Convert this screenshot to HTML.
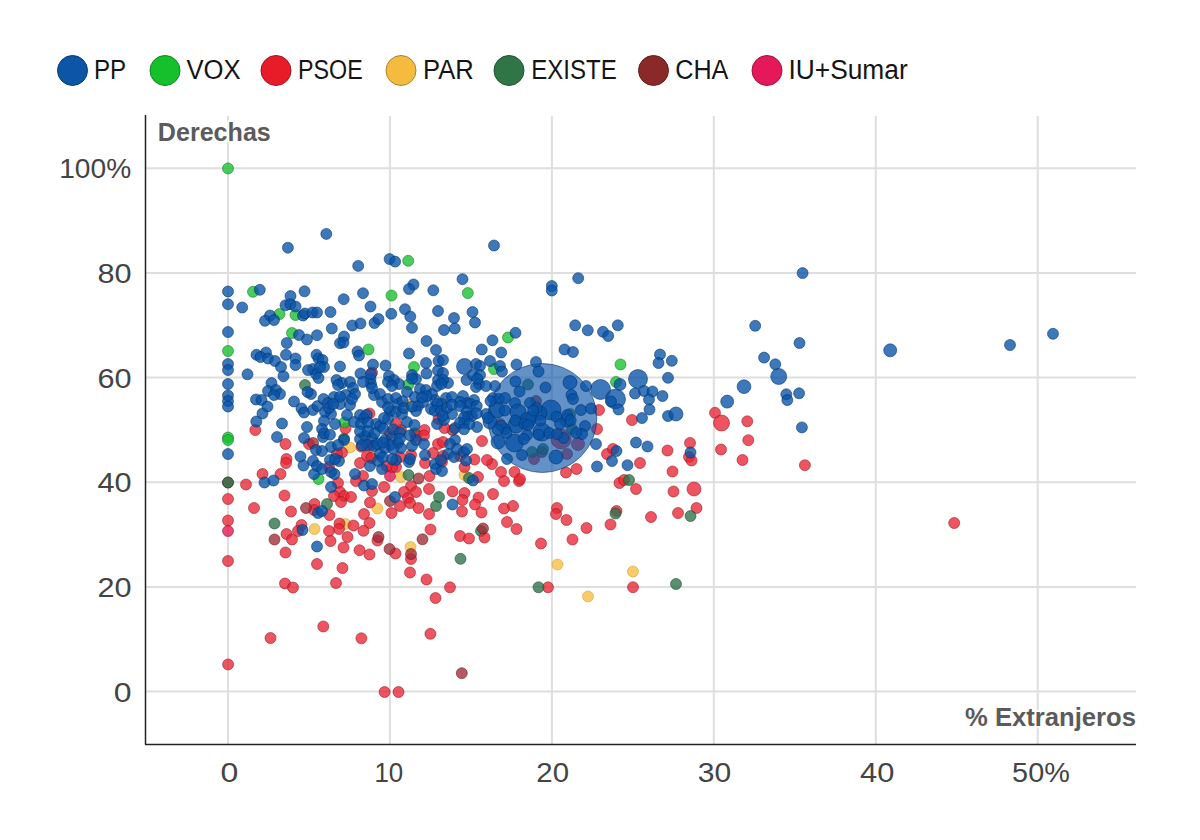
<!DOCTYPE html>
<html><head><meta charset="utf-8"><style>
html,body{margin:0;padding:0;background:#fff;width:1200px;height:840px;overflow:hidden}
svg{display:block}
</style></head><body>
<svg width="1200" height="840" viewBox="0 0 1200 840">
<g stroke="#dedede" stroke-width="2"><line x1="228.0" y1="116" x2="228.0" y2="744" /><line x1="389.9" y1="116" x2="389.9" y2="744" /><line x1="551.9" y1="116" x2="551.9" y2="744" /><line x1="713.8" y1="116" x2="713.8" y2="744" /><line x1="875.8" y1="116" x2="875.8" y2="744" /><line x1="1037.7" y1="116" x2="1037.7" y2="744" /><line x1="146" y1="691.5" x2="1136" y2="691.5" /><line x1="146" y1="586.9" x2="1136" y2="586.9" /><line x1="146" y1="482.2" x2="1136" y2="482.2" /><line x1="146" y1="377.6" x2="1136" y2="377.6" /><line x1="146" y1="272.9" x2="1136" y2="272.9" /><line x1="146" y1="168.3" x2="1136" y2="168.3" /></g>
<line x1="145.5" y1="115" x2="145.5" y2="744.5" stroke="#222" stroke-width="1.5"/>
<line x1="145" y1="744.5" x2="1136" y2="744.5" stroke="#222" stroke-width="1.5"/>
<g fill-opacity="0.78" stroke-opacity="0.55" stroke-width="1"><circle cx="408.5" cy="404.5" r="5.5" fill="#f6be40" stroke="#d1a136"/><circle cx="371.0" cy="457.0" r="5.5" fill="#f6be40" stroke="#d1a136"/><circle cx="345.5" cy="524.0" r="5.5" fill="#f6be40" stroke="#d1a136"/><circle cx="632.0" cy="420.0" r="5.5" fill="#e92533" stroke="#90161f"/><circle cx="309.0" cy="444.0" r="5.5" fill="#e92533" stroke="#90161f"/><circle cx="607.0" cy="454.0" r="5.5" fill="#e92533" stroke="#90161f"/><circle cx="613.0" cy="449.0" r="5.5" fill="#e92533" stroke="#90161f"/><circle cx="561.0" cy="439.0" r="10.0" fill="#e92533" stroke="#90161f"/><circle cx="578.0" cy="444.0" r="6.5" fill="#e92533" stroke="#90161f"/><circle cx="567.0" cy="454.0" r="5.5" fill="#e92533" stroke="#90161f"/><circle cx="500.0" cy="424.0" r="5.5" fill="#e92533" stroke="#90161f"/><circle cx="534.0" cy="459.0" r="5.5" fill="#e92533" stroke="#90161f"/><circle cx="361.3" cy="446.7" r="5.5" fill="#e92533" stroke="#90161f"/><circle cx="370.7" cy="445.3" r="5.5" fill="#e92533" stroke="#90161f"/><circle cx="390.0" cy="433.3" r="5.5" fill="#e92533" stroke="#90161f"/><circle cx="401.0" cy="430.0" r="5.5" fill="#9f2b33" stroke="#621a1f"/><circle cx="452.5" cy="430.0" r="5.5" fill="#9f2b33" stroke="#621a1f"/><circle cx="228.0" cy="482.5" r="5.5" fill="#9f2b33" stroke="#621a1f"/><circle cx="313.0" cy="443.0" r="5.5" fill="#9f2b33" stroke="#621a1f"/><circle cx="536.0" cy="401.0" r="5.5" fill="#9f2b33" stroke="#621a1f"/><circle cx="542.0" cy="452.0" r="5.5" fill="#9f2b33" stroke="#621a1f"/><circle cx="408.5" cy="384.5" r="5.5" fill="#16c02e" stroke="#0d771c"/><circle cx="494.0" cy="369.0" r="5.5" fill="#16c02e" stroke="#0d771c"/><circle cx="616.0" cy="382.0" r="5.5" fill="#16c02e" stroke="#0d771c"/><circle cx="481.0" cy="531.0" r="5.5" fill="#2a7248" stroke="#1a462c"/><circle cx="528.0" cy="384.5" r="5.5" fill="#2a7248" stroke="#1a462c"/><circle cx="570.0" cy="414.0" r="5.5" fill="#2a7248" stroke="#1a462c"/><circle cx="572.0" cy="429.0" r="5.5" fill="#2a7248" stroke="#1a462c"/><circle cx="543.0" cy="449.0" r="5.5" fill="#2a7248" stroke="#1a462c"/><circle cx="532.0" cy="452.0" r="5.5" fill="#2a7248" stroke="#1a462c"/><circle cx="344.0" cy="438.7" r="5.5" fill="#2a7248" stroke="#1a462c"/><circle cx="414.7" cy="433.3" r="5.5" fill="#2a7248" stroke="#1a462c"/><circle cx="350.0" cy="447.5" r="5.5" fill="#f6be40" stroke="#d1a136"/><circle cx="401.0" cy="477.0" r="5.5" fill="#f6be40" stroke="#d1a136"/><circle cx="377.5" cy="508.5" r="5.5" fill="#f6be40" stroke="#d1a136"/><circle cx="464.5" cy="475.0" r="5.5" fill="#f6be40" stroke="#d1a136"/><circle cx="314.5" cy="529.0" r="5.5" fill="#f6be40" stroke="#d1a136"/><circle cx="410.5" cy="547.0" r="5.5" fill="#f6be40" stroke="#d1a136"/><circle cx="557.5" cy="564.5" r="5.5" fill="#f6be40" stroke="#d1a136"/><circle cx="633.0" cy="571.5" r="5.5" fill="#f6be40" stroke="#d1a136"/><circle cx="588.0" cy="596.5" r="5.5" fill="#f6be40" stroke="#d1a136"/><circle cx="747.3" cy="421.3" r="5.5" fill="#e92533" stroke="#90161f"/><circle cx="748.3" cy="440.2" r="5.5" fill="#e92533" stroke="#90161f"/><circle cx="742.5" cy="460.0" r="5.5" fill="#e92533" stroke="#90161f"/><circle cx="804.9" cy="465.2" r="5.5" fill="#e92533" stroke="#90161f"/><circle cx="954.2" cy="523.0" r="5.5" fill="#e92533" stroke="#90161f"/><circle cx="255.3" cy="430.0" r="5.5" fill="#e92533" stroke="#90161f"/><circle cx="372.0" cy="372.5" r="5.5" fill="#e92533" stroke="#90161f"/><circle cx="369.5" cy="413.5" r="5.5" fill="#e92533" stroke="#90161f"/><circle cx="424.5" cy="430.0" r="5.5" fill="#e92533" stroke="#90161f"/><circle cx="396.0" cy="423.5" r="5.5" fill="#e92533" stroke="#90161f"/><circle cx="345.5" cy="428.5" r="5.5" fill="#e92533" stroke="#90161f"/><circle cx="438.5" cy="419.0" r="5.5" fill="#e92533" stroke="#90161f"/><circle cx="444.5" cy="428.0" r="5.5" fill="#e92533" stroke="#90161f"/><circle cx="715.0" cy="412.8" r="5.5" fill="#e92533" stroke="#90161f"/><circle cx="721.5" cy="423.0" r="8.0" fill="#e92533" stroke="#90161f"/><circle cx="228.0" cy="499.0" r="5.5" fill="#e92533" stroke="#90161f"/><circle cx="228.0" cy="520.5" r="5.5" fill="#e92533" stroke="#90161f"/><circle cx="285.5" cy="444.0" r="5.5" fill="#e92533" stroke="#90161f"/><circle cx="286.5" cy="459.0" r="5.5" fill="#e92533" stroke="#90161f"/><circle cx="286.0" cy="463.0" r="5.5" fill="#e92533" stroke="#90161f"/><circle cx="262.5" cy="474.0" r="5.5" fill="#e92533" stroke="#90161f"/><circle cx="280.5" cy="474.0" r="5.5" fill="#e92533" stroke="#90161f"/><circle cx="246.0" cy="484.5" r="5.5" fill="#e92533" stroke="#90161f"/><circle cx="284.5" cy="495.5" r="5.5" fill="#e92533" stroke="#90161f"/><circle cx="254.0" cy="508.0" r="5.5" fill="#e92533" stroke="#90161f"/><circle cx="291.0" cy="511.5" r="5.5" fill="#e92533" stroke="#90161f"/><circle cx="314.5" cy="504.0" r="5.5" fill="#e92533" stroke="#90161f"/><circle cx="314.0" cy="510.0" r="5.5" fill="#e92533" stroke="#90161f"/><circle cx="342.0" cy="452.5" r="5.5" fill="#e92533" stroke="#90161f"/><circle cx="337.0" cy="453.5" r="5.5" fill="#e92533" stroke="#90161f"/><circle cx="416.0" cy="436.0" r="5.5" fill="#e92533" stroke="#90161f"/><circle cx="424.0" cy="435.5" r="5.5" fill="#e92533" stroke="#90161f"/><circle cx="433.0" cy="453.0" r="5.5" fill="#e92533" stroke="#90161f"/><circle cx="438.0" cy="444.0" r="5.5" fill="#e92533" stroke="#90161f"/><circle cx="367.0" cy="456.0" r="5.5" fill="#e92533" stroke="#90161f"/><circle cx="360.0" cy="463.0" r="5.5" fill="#e92533" stroke="#90161f"/><circle cx="400.0" cy="457.0" r="5.5" fill="#e92533" stroke="#90161f"/><circle cx="396.0" cy="467.0" r="5.5" fill="#e92533" stroke="#90161f"/><circle cx="411.0" cy="455.0" r="5.5" fill="#e92533" stroke="#90161f"/><circle cx="425.0" cy="463.0" r="5.5" fill="#e92533" stroke="#90161f"/><circle cx="363.0" cy="476.0" r="5.5" fill="#e92533" stroke="#90161f"/><circle cx="356.0" cy="481.0" r="5.5" fill="#e92533" stroke="#90161f"/><circle cx="429.5" cy="476.0" r="5.5" fill="#e92533" stroke="#90161f"/><circle cx="329.0" cy="467.0" r="5.5" fill="#e92533" stroke="#90161f"/><circle cx="338.0" cy="483.0" r="5.5" fill="#e92533" stroke="#90161f"/><circle cx="340.0" cy="492.0" r="5.5" fill="#e92533" stroke="#90161f"/><circle cx="344.0" cy="496.0" r="5.5" fill="#e92533" stroke="#90161f"/><circle cx="351.0" cy="497.0" r="5.5" fill="#e92533" stroke="#90161f"/><circle cx="334.0" cy="496.0" r="5.5" fill="#e92533" stroke="#90161f"/><circle cx="341.0" cy="502.0" r="5.5" fill="#e92533" stroke="#90161f"/><circle cx="372.0" cy="491.0" r="5.5" fill="#e92533" stroke="#90161f"/><circle cx="384.0" cy="487.0" r="5.5" fill="#e92533" stroke="#90161f"/><circle cx="411.0" cy="486.0" r="5.5" fill="#e92533" stroke="#90161f"/><circle cx="416.0" cy="492.0" r="5.5" fill="#e92533" stroke="#90161f"/><circle cx="404.0" cy="492.0" r="5.5" fill="#e92533" stroke="#90161f"/><circle cx="429.0" cy="489.0" r="5.5" fill="#e92533" stroke="#90161f"/><circle cx="408.0" cy="498.0" r="5.5" fill="#e92533" stroke="#90161f"/><circle cx="410.0" cy="503.0" r="5.5" fill="#e92533" stroke="#90161f"/><circle cx="400.0" cy="506.0" r="5.5" fill="#e92533" stroke="#90161f"/><circle cx="418.5" cy="508.0" r="5.5" fill="#e92533" stroke="#90161f"/><circle cx="370.0" cy="502.5" r="5.5" fill="#e92533" stroke="#90161f"/><circle cx="364.0" cy="514.0" r="5.5" fill="#e92533" stroke="#90161f"/><circle cx="391.5" cy="513.0" r="5.5" fill="#e92533" stroke="#90161f"/><circle cx="429.0" cy="514.0" r="5.5" fill="#e92533" stroke="#90161f"/><circle cx="329.5" cy="515.0" r="5.5" fill="#e92533" stroke="#90161f"/><circle cx="443.0" cy="442.0" r="5.5" fill="#e92533" stroke="#90161f"/><circle cx="460.0" cy="456.0" r="5.5" fill="#e92533" stroke="#90161f"/><circle cx="443.0" cy="456.0" r="5.5" fill="#e92533" stroke="#90161f"/><circle cx="442.0" cy="462.0" r="5.5" fill="#e92533" stroke="#90161f"/><circle cx="474.5" cy="459.5" r="5.5" fill="#e92533" stroke="#90161f"/><circle cx="492.0" cy="464.0" r="5.5" fill="#e92533" stroke="#90161f"/><circle cx="464.5" cy="467.0" r="5.5" fill="#e92533" stroke="#90161f"/><circle cx="478.0" cy="477.0" r="5.5" fill="#e92533" stroke="#90161f"/><circle cx="501.0" cy="472.0" r="5.5" fill="#e92533" stroke="#90161f"/><circle cx="504.0" cy="481.0" r="5.5" fill="#e92533" stroke="#90161f"/><circle cx="514.5" cy="472.0" r="5.5" fill="#e92533" stroke="#90161f"/><circle cx="519.0" cy="481.0" r="5.5" fill="#e92533" stroke="#90161f"/><circle cx="520.0" cy="479.0" r="5.5" fill="#e92533" stroke="#90161f"/><circle cx="452.5" cy="491.5" r="5.5" fill="#e92533" stroke="#90161f"/><circle cx="464.5" cy="493.0" r="5.5" fill="#e92533" stroke="#90161f"/><circle cx="462.5" cy="500.0" r="5.5" fill="#e92533" stroke="#90161f"/><circle cx="478.5" cy="497.5" r="5.5" fill="#e92533" stroke="#90161f"/><circle cx="475.0" cy="504.5" r="5.5" fill="#e92533" stroke="#90161f"/><circle cx="481.5" cy="512.5" r="5.5" fill="#e92533" stroke="#90161f"/><circle cx="462.0" cy="511.5" r="5.5" fill="#e92533" stroke="#90161f"/><circle cx="493.0" cy="494.0" r="5.5" fill="#e92533" stroke="#90161f"/><circle cx="504.0" cy="508.5" r="5.5" fill="#e92533" stroke="#90161f"/><circle cx="513.0" cy="506.0" r="5.5" fill="#e92533" stroke="#90161f"/><circle cx="557.0" cy="508.0" r="5.5" fill="#e92533" stroke="#90161f"/><circle cx="556.0" cy="514.0" r="5.5" fill="#e92533" stroke="#90161f"/><circle cx="667.5" cy="450.5" r="5.5" fill="#e92533" stroke="#90161f"/><circle cx="640.0" cy="463.0" r="5.5" fill="#e92533" stroke="#90161f"/><circle cx="672.5" cy="471.5" r="5.5" fill="#e92533" stroke="#90161f"/><circle cx="566.0" cy="472.5" r="5.5" fill="#e92533" stroke="#90161f"/><circle cx="576.5" cy="469.0" r="5.5" fill="#e92533" stroke="#90161f"/><circle cx="619.5" cy="483.0" r="5.5" fill="#e92533" stroke="#90161f"/><circle cx="624.0" cy="480.0" r="5.5" fill="#e92533" stroke="#90161f"/><circle cx="636.0" cy="489.0" r="5.5" fill="#e92533" stroke="#90161f"/><circle cx="673.5" cy="491.5" r="5.5" fill="#e92533" stroke="#90161f"/><circle cx="616.5" cy="511.0" r="5.5" fill="#e92533" stroke="#90161f"/><circle cx="651.0" cy="517.0" r="5.5" fill="#e92533" stroke="#90161f"/><circle cx="690.0" cy="443.0" r="5.5" fill="#e92533" stroke="#90161f"/><circle cx="689.0" cy="457.0" r="5.5" fill="#e92533" stroke="#90161f"/><circle cx="691.5" cy="460.5" r="5.5" fill="#e92533" stroke="#90161f"/><circle cx="721.0" cy="449.5" r="5.5" fill="#e92533" stroke="#90161f"/><circle cx="694.0" cy="489.0" r="7.0" fill="#e92533" stroke="#90161f"/><circle cx="696.5" cy="508.0" r="5.5" fill="#e92533" stroke="#90161f"/><circle cx="678.0" cy="513.0" r="5.5" fill="#e92533" stroke="#90161f"/><circle cx="228.0" cy="561.0" r="5.5" fill="#e92533" stroke="#90161f"/><circle cx="286.5" cy="534.0" r="5.5" fill="#e92533" stroke="#90161f"/><circle cx="292.0" cy="539.5" r="5.5" fill="#e92533" stroke="#90161f"/><circle cx="301.5" cy="525.0" r="5.5" fill="#e92533" stroke="#90161f"/><circle cx="298.0" cy="531.0" r="5.5" fill="#e92533" stroke="#90161f"/><circle cx="285.5" cy="552.5" r="5.5" fill="#e92533" stroke="#90161f"/><circle cx="317.0" cy="564.0" r="5.5" fill="#e92533" stroke="#90161f"/><circle cx="285.0" cy="583.5" r="5.5" fill="#e92533" stroke="#90161f"/><circle cx="293.0" cy="587.5" r="5.5" fill="#e92533" stroke="#90161f"/><circle cx="339.5" cy="523.5" r="5.5" fill="#e92533" stroke="#90161f"/><circle cx="339.0" cy="529.0" r="5.5" fill="#e92533" stroke="#90161f"/><circle cx="353.5" cy="525.5" r="5.5" fill="#e92533" stroke="#90161f"/><circle cx="369.5" cy="523.0" r="5.5" fill="#e92533" stroke="#90161f"/><circle cx="329.0" cy="531.0" r="5.5" fill="#e92533" stroke="#90161f"/><circle cx="363.5" cy="530.8" r="5.5" fill="#e92533" stroke="#90161f"/><circle cx="330.5" cy="541.0" r="5.5" fill="#e92533" stroke="#90161f"/><circle cx="347.5" cy="537.0" r="5.5" fill="#e92533" stroke="#90161f"/><circle cx="377.5" cy="540.5" r="5.5" fill="#e92533" stroke="#90161f"/><circle cx="343.5" cy="547.5" r="5.5" fill="#e92533" stroke="#90161f"/><circle cx="359.5" cy="550.2" r="5.5" fill="#e92533" stroke="#90161f"/><circle cx="369.5" cy="554.5" r="5.5" fill="#e92533" stroke="#90161f"/><circle cx="395.5" cy="553.5" r="5.5" fill="#e92533" stroke="#90161f"/><circle cx="411.0" cy="559.0" r="5.5" fill="#e92533" stroke="#90161f"/><circle cx="430.5" cy="529.5" r="5.5" fill="#e92533" stroke="#90161f"/><circle cx="410.0" cy="572.5" r="5.5" fill="#e92533" stroke="#90161f"/><circle cx="426.5" cy="579.5" r="5.5" fill="#e92533" stroke="#90161f"/><circle cx="342.5" cy="568.0" r="5.5" fill="#e92533" stroke="#90161f"/><circle cx="336.0" cy="583.0" r="5.5" fill="#e92533" stroke="#90161f"/><circle cx="435.5" cy="598.0" r="5.5" fill="#e92533" stroke="#90161f"/><circle cx="507.0" cy="522.0" r="5.5" fill="#e92533" stroke="#90161f"/><circle cx="516.5" cy="529.0" r="5.5" fill="#e92533" stroke="#90161f"/><circle cx="460.0" cy="536.0" r="5.5" fill="#e92533" stroke="#90161f"/><circle cx="469.0" cy="538.5" r="5.5" fill="#e92533" stroke="#90161f"/><circle cx="484.5" cy="537.5" r="5.5" fill="#e92533" stroke="#90161f"/><circle cx="541.0" cy="543.5" r="5.5" fill="#e92533" stroke="#90161f"/><circle cx="450.0" cy="587.3" r="5.5" fill="#e92533" stroke="#90161f"/><circle cx="548.0" cy="587.3" r="5.5" fill="#e92533" stroke="#90161f"/><circle cx="566.5" cy="520.0" r="5.5" fill="#e92533" stroke="#90161f"/><circle cx="610.5" cy="524.5" r="5.5" fill="#e92533" stroke="#90161f"/><circle cx="586.5" cy="528.0" r="5.5" fill="#e92533" stroke="#90161f"/><circle cx="572.5" cy="539.5" r="5.5" fill="#e92533" stroke="#90161f"/><circle cx="633.0" cy="587.2" r="5.5" fill="#e92533" stroke="#90161f"/><circle cx="270.5" cy="638.0" r="5.5" fill="#e92533" stroke="#90161f"/><circle cx="323.3" cy="626.5" r="5.5" fill="#e92533" stroke="#90161f"/><circle cx="361.4" cy="638.3" r="5.5" fill="#e92533" stroke="#90161f"/><circle cx="228.1" cy="664.4" r="5.5" fill="#e92533" stroke="#90161f"/><circle cx="430.4" cy="633.8" r="5.5" fill="#e92533" stroke="#90161f"/><circle cx="384.6" cy="692.0" r="5.5" fill="#e92533" stroke="#90161f"/><circle cx="398.5" cy="692.0" r="5.5" fill="#e92533" stroke="#90161f"/><circle cx="482.0" cy="441.0" r="5.5" fill="#e92533" stroke="#90161f"/><circle cx="487.0" cy="460.0" r="5.5" fill="#e92533" stroke="#90161f"/><circle cx="597.0" cy="429.0" r="5.5" fill="#e92533" stroke="#90161f"/><circle cx="599.0" cy="410.0" r="5.5" fill="#e92533" stroke="#90161f"/><circle cx="371.3" cy="458.0" r="5.5" fill="#e92533" stroke="#90161f"/><circle cx="392.0" cy="467.3" r="5.5" fill="#e92533" stroke="#90161f"/><circle cx="386.7" cy="466.0" r="5.5" fill="#e92533" stroke="#90161f"/><circle cx="306.0" cy="508.0" r="5.5" fill="#9f2b33" stroke="#621a1f"/><circle cx="418.5" cy="478.5" r="5.5" fill="#9f2b33" stroke="#621a1f"/><circle cx="390.0" cy="501.0" r="5.5" fill="#9f2b33" stroke="#621a1f"/><circle cx="274.5" cy="539.5" r="5.5" fill="#9f2b33" stroke="#621a1f"/><circle cx="378.5" cy="537.0" r="5.5" fill="#9f2b33" stroke="#621a1f"/><circle cx="389.5" cy="549.0" r="5.5" fill="#9f2b33" stroke="#621a1f"/><circle cx="411.0" cy="554.0" r="5.5" fill="#9f2b33" stroke="#621a1f"/><circle cx="422.5" cy="539.3" r="5.5" fill="#9f2b33" stroke="#621a1f"/><circle cx="483.0" cy="528.5" r="5.5" fill="#9f2b33" stroke="#621a1f"/><circle cx="461.8" cy="673.2" r="5.5" fill="#9f2b33" stroke="#621a1f"/><circle cx="390.0" cy="476.0" r="5.5" fill="#e3134f" stroke="#8c0b30"/><circle cx="228.0" cy="531.0" r="5.5" fill="#e3134f" stroke="#8c0b30"/><circle cx="228.0" cy="168.4" r="5.5" fill="#16c02e" stroke="#0d771c"/><circle cx="408.2" cy="260.8" r="5.5" fill="#16c02e" stroke="#0d771c"/><circle cx="253.0" cy="291.8" r="5.5" fill="#16c02e" stroke="#0d771c"/><circle cx="279.5" cy="314.0" r="5.5" fill="#16c02e" stroke="#0d771c"/><circle cx="295.5" cy="315.0" r="5.5" fill="#16c02e" stroke="#0d771c"/><circle cx="228.0" cy="351.0" r="5.5" fill="#16c02e" stroke="#0d771c"/><circle cx="292.0" cy="333.0" r="5.5" fill="#16c02e" stroke="#0d771c"/><circle cx="391.5" cy="295.5" r="5.5" fill="#16c02e" stroke="#0d771c"/><circle cx="368.5" cy="349.5" r="5.5" fill="#16c02e" stroke="#0d771c"/><circle cx="467.8" cy="293.0" r="5.5" fill="#16c02e" stroke="#0d771c"/><circle cx="508.0" cy="337.5" r="5.5" fill="#16c02e" stroke="#0d771c"/><circle cx="414.0" cy="367.0" r="5.5" fill="#16c02e" stroke="#0d771c"/><circle cx="344.5" cy="422.5" r="5.5" fill="#16c02e" stroke="#0d771c"/><circle cx="620.5" cy="364.5" r="5.5" fill="#16c02e" stroke="#0d771c"/><circle cx="228.0" cy="437.5" r="5.5" fill="#16c02e" stroke="#0d771c"/><circle cx="228.0" cy="440.0" r="5.5" fill="#16c02e" stroke="#0d771c"/><circle cx="318.5" cy="479.0" r="5.5" fill="#16c02e" stroke="#0d771c"/><circle cx="305.0" cy="385.0" r="5.5" fill="#2a7248" stroke="#1a462c"/><circle cx="228.0" cy="482.5" r="5.5" fill="#2a7248" stroke="#1a462c"/><circle cx="408.5" cy="475.0" r="5.5" fill="#2a7248" stroke="#1a462c"/><circle cx="327.0" cy="504.0" r="5.5" fill="#2a7248" stroke="#1a462c"/><circle cx="436.0" cy="506.0" r="5.5" fill="#2a7248" stroke="#1a462c"/><circle cx="439.0" cy="497.0" r="5.5" fill="#2a7248" stroke="#1a462c"/><circle cx="469.0" cy="478.0" r="5.5" fill="#2a7248" stroke="#1a462c"/><circle cx="629.0" cy="480.0" r="5.5" fill="#2a7248" stroke="#1a462c"/><circle cx="615.5" cy="513.5" r="5.5" fill="#2a7248" stroke="#1a462c"/><circle cx="690.5" cy="516.0" r="5.5" fill="#2a7248" stroke="#1a462c"/><circle cx="274.5" cy="523.5" r="5.5" fill="#2a7248" stroke="#1a462c"/><circle cx="460.5" cy="558.8" r="5.5" fill="#2a7248" stroke="#1a462c"/><circle cx="538.5" cy="587.3" r="5.5" fill="#2a7248" stroke="#1a462c"/><circle cx="676.0" cy="584.0" r="5.5" fill="#2a7248" stroke="#1a462c"/><circle cx="542.3" cy="418.0" r="54.5" fill="#0652a7" stroke="#033267" fill-opacity="0.63"/><circle cx="287.9" cy="247.7" r="5.5" fill="#0652a7" stroke="#033267"/><circle cx="326.3" cy="233.9" r="5.5" fill="#0652a7" stroke="#033267"/><circle cx="358.2" cy="265.9" r="5.5" fill="#0652a7" stroke="#033267"/><circle cx="389.6" cy="259.1" r="5.5" fill="#0652a7" stroke="#033267"/><circle cx="395.1" cy="261.6" r="5.5" fill="#0652a7" stroke="#033267"/><circle cx="494.0" cy="245.5" r="5.5" fill="#0652a7" stroke="#033267"/><circle cx="802.6" cy="273.1" r="5.5" fill="#0652a7" stroke="#033267"/><circle cx="755.2" cy="325.8" r="5.5" fill="#0652a7" stroke="#033267"/><circle cx="799.5" cy="343.0" r="5.5" fill="#0652a7" stroke="#033267"/><circle cx="890.2" cy="350.3" r="6.5" fill="#0652a7" stroke="#033267"/><circle cx="764.1" cy="357.6" r="5.5" fill="#0652a7" stroke="#033267"/><circle cx="775.3" cy="364.3" r="5.5" fill="#0652a7" stroke="#033267"/><circle cx="778.7" cy="376.5" r="8.0" fill="#0652a7" stroke="#033267"/><circle cx="744.0" cy="386.7" r="6.9" fill="#0652a7" stroke="#033267"/><circle cx="727.2" cy="401.6" r="6.5" fill="#0652a7" stroke="#033267"/><circle cx="786.3" cy="394.3" r="5.5" fill="#0652a7" stroke="#033267"/><circle cx="787.3" cy="400.1" r="5.5" fill="#0652a7" stroke="#033267"/><circle cx="799.1" cy="393.3" r="5.5" fill="#0652a7" stroke="#033267"/><circle cx="801.9" cy="427.4" r="5.5" fill="#0652a7" stroke="#033267"/><circle cx="1010.0" cy="345.0" r="5.5" fill="#0652a7" stroke="#033267"/><circle cx="1053.0" cy="333.8" r="5.5" fill="#0652a7" stroke="#033267"/><circle cx="228.0" cy="291.5" r="5.5" fill="#0652a7" stroke="#033267"/><circle cx="228.0" cy="304.2" r="5.5" fill="#0652a7" stroke="#033267"/><circle cx="242.2" cy="307.5" r="5.5" fill="#0652a7" stroke="#033267"/><circle cx="259.8" cy="289.8" r="5.5" fill="#0652a7" stroke="#033267"/><circle cx="304.5" cy="291.3" r="5.5" fill="#0652a7" stroke="#033267"/><circle cx="290.5" cy="296.0" r="5.5" fill="#0652a7" stroke="#033267"/><circle cx="285.5" cy="305.3" r="5.5" fill="#0652a7" stroke="#033267"/><circle cx="290.5" cy="304.2" r="5.5" fill="#0652a7" stroke="#033267"/><circle cx="295.5" cy="306.5" r="5.5" fill="#0652a7" stroke="#033267"/><circle cx="270.0" cy="315.5" r="5.5" fill="#0652a7" stroke="#033267"/><circle cx="265.0" cy="320.8" r="5.5" fill="#0652a7" stroke="#033267"/><circle cx="274.0" cy="320.0" r="5.5" fill="#0652a7" stroke="#033267"/><circle cx="303.0" cy="315.5" r="5.5" fill="#0652a7" stroke="#033267"/><circle cx="305.0" cy="313.5" r="5.5" fill="#0652a7" stroke="#033267"/><circle cx="312.5" cy="312.5" r="5.5" fill="#0652a7" stroke="#033267"/><circle cx="317.0" cy="312.5" r="5.5" fill="#0652a7" stroke="#033267"/><circle cx="228.0" cy="332.0" r="5.5" fill="#0652a7" stroke="#033267"/><circle cx="299.0" cy="335.0" r="5.5" fill="#0652a7" stroke="#033267"/><circle cx="307.0" cy="339.5" r="5.5" fill="#0652a7" stroke="#033267"/><circle cx="286.8" cy="343.0" r="5.5" fill="#0652a7" stroke="#033267"/><circle cx="317.0" cy="335.2" r="5.5" fill="#0652a7" stroke="#033267"/><circle cx="266.0" cy="352.5" r="5.5" fill="#0652a7" stroke="#033267"/><circle cx="286.0" cy="354.8" r="5.5" fill="#0652a7" stroke="#033267"/><circle cx="316.5" cy="354.8" r="5.5" fill="#0652a7" stroke="#033267"/><circle cx="343.7" cy="299.2" r="5.5" fill="#0652a7" stroke="#033267"/><circle cx="363.0" cy="293.2" r="5.5" fill="#0652a7" stroke="#033267"/><circle cx="370.5" cy="306.5" r="5.5" fill="#0652a7" stroke="#033267"/><circle cx="413.5" cy="284.5" r="5.5" fill="#0652a7" stroke="#033267"/><circle cx="409.0" cy="289.0" r="5.5" fill="#0652a7" stroke="#033267"/><circle cx="433.3" cy="290.3" r="5.5" fill="#0652a7" stroke="#033267"/><circle cx="330.5" cy="312.0" r="5.5" fill="#0652a7" stroke="#033267"/><circle cx="391.3" cy="313.8" r="5.5" fill="#0652a7" stroke="#033267"/><circle cx="405.0" cy="309.2" r="5.5" fill="#0652a7" stroke="#033267"/><circle cx="410.3" cy="316.5" r="5.5" fill="#0652a7" stroke="#033267"/><circle cx="438.0" cy="311.0" r="5.5" fill="#0652a7" stroke="#033267"/><circle cx="331.8" cy="328.5" r="5.5" fill="#0652a7" stroke="#033267"/><circle cx="352.3" cy="325.5" r="5.5" fill="#0652a7" stroke="#033267"/><circle cx="360.5" cy="323.5" r="5.5" fill="#0652a7" stroke="#033267"/><circle cx="374.5" cy="323.0" r="5.5" fill="#0652a7" stroke="#033267"/><circle cx="378.5" cy="319.0" r="5.5" fill="#0652a7" stroke="#033267"/><circle cx="412.0" cy="327.8" r="5.5" fill="#0652a7" stroke="#033267"/><circle cx="344.0" cy="336.5" r="5.5" fill="#0652a7" stroke="#033267"/><circle cx="340.0" cy="343.2" r="5.5" fill="#0652a7" stroke="#033267"/><circle cx="343.5" cy="342.5" r="5.5" fill="#0652a7" stroke="#033267"/><circle cx="357.5" cy="351.5" r="5.5" fill="#0652a7" stroke="#033267"/><circle cx="359.0" cy="355.5" r="5.5" fill="#0652a7" stroke="#033267"/><circle cx="426.5" cy="341.0" r="5.5" fill="#0652a7" stroke="#033267"/><circle cx="436.0" cy="350.0" r="5.5" fill="#0652a7" stroke="#033267"/><circle cx="409.0" cy="353.5" r="5.5" fill="#0652a7" stroke="#033267"/><circle cx="462.5" cy="279.2" r="5.5" fill="#0652a7" stroke="#033267"/><circle cx="454.0" cy="318.0" r="5.5" fill="#0652a7" stroke="#033267"/><circle cx="472.5" cy="312.0" r="5.5" fill="#0652a7" stroke="#033267"/><circle cx="475.0" cy="322.5" r="5.5" fill="#0652a7" stroke="#033267"/><circle cx="444.0" cy="330.0" r="5.5" fill="#0652a7" stroke="#033267"/><circle cx="454.8" cy="328.5" r="5.5" fill="#0652a7" stroke="#033267"/><circle cx="492.5" cy="340.3" r="5.5" fill="#0652a7" stroke="#033267"/><circle cx="515.5" cy="332.8" r="5.5" fill="#0652a7" stroke="#033267"/><circle cx="481.8" cy="349.5" r="5.5" fill="#0652a7" stroke="#033267"/><circle cx="501.2" cy="352.5" r="5.5" fill="#0652a7" stroke="#033267"/><circle cx="551.8" cy="286.0" r="5.5" fill="#0652a7" stroke="#033267"/><circle cx="551.8" cy="290.5" r="5.5" fill="#0652a7" stroke="#033267"/><circle cx="578.2" cy="278.2" r="5.5" fill="#0652a7" stroke="#033267"/><circle cx="575.2" cy="325.3" r="5.5" fill="#0652a7" stroke="#033267"/><circle cx="587.8" cy="330.3" r="5.5" fill="#0652a7" stroke="#033267"/><circle cx="603.0" cy="331.8" r="5.5" fill="#0652a7" stroke="#033267"/><circle cx="608.2" cy="336.0" r="5.5" fill="#0652a7" stroke="#033267"/><circle cx="617.8" cy="325.3" r="5.5" fill="#0652a7" stroke="#033267"/><circle cx="564.5" cy="349.5" r="5.5" fill="#0652a7" stroke="#033267"/><circle cx="573.0" cy="352.0" r="5.5" fill="#0652a7" stroke="#033267"/><circle cx="660.0" cy="354.5" r="5.5" fill="#0652a7" stroke="#033267"/><circle cx="256.5" cy="354.8" r="5.5" fill="#0652a7" stroke="#033267"/><circle cx="260.5" cy="357.0" r="5.5" fill="#0652a7" stroke="#033267"/><circle cx="268.0" cy="358.5" r="5.5" fill="#0652a7" stroke="#033267"/><circle cx="275.0" cy="361.0" r="5.5" fill="#0652a7" stroke="#033267"/><circle cx="281.0" cy="367.0" r="5.5" fill="#0652a7" stroke="#033267"/><circle cx="283.5" cy="376.2" r="5.5" fill="#0652a7" stroke="#033267"/><circle cx="295.5" cy="358.5" r="5.5" fill="#0652a7" stroke="#033267"/><circle cx="295.5" cy="365.0" r="5.5" fill="#0652a7" stroke="#033267"/><circle cx="318.5" cy="358.5" r="5.5" fill="#0652a7" stroke="#033267"/><circle cx="313.0" cy="369.0" r="5.5" fill="#0652a7" stroke="#033267"/><circle cx="316.0" cy="374.0" r="5.5" fill="#0652a7" stroke="#033267"/><circle cx="318.5" cy="378.0" r="5.5" fill="#0652a7" stroke="#033267"/><circle cx="228.0" cy="364.0" r="5.5" fill="#0652a7" stroke="#033267"/><circle cx="228.0" cy="370.0" r="5.5" fill="#0652a7" stroke="#033267"/><circle cx="247.5" cy="374.3" r="5.5" fill="#0652a7" stroke="#033267"/><circle cx="228.0" cy="384.0" r="5.5" fill="#0652a7" stroke="#033267"/><circle cx="228.0" cy="395.5" r="5.5" fill="#0652a7" stroke="#033267"/><circle cx="228.0" cy="401.0" r="5.5" fill="#0652a7" stroke="#033267"/><circle cx="228.0" cy="406.5" r="5.5" fill="#0652a7" stroke="#033267"/><circle cx="271.5" cy="383.0" r="5.5" fill="#0652a7" stroke="#033267"/><circle cx="268.0" cy="391.0" r="5.5" fill="#0652a7" stroke="#033267"/><circle cx="276.0" cy="390.0" r="5.5" fill="#0652a7" stroke="#033267"/><circle cx="280.0" cy="394.0" r="5.5" fill="#0652a7" stroke="#033267"/><circle cx="274.0" cy="395.0" r="5.5" fill="#0652a7" stroke="#033267"/><circle cx="256.0" cy="399.5" r="5.5" fill="#0652a7" stroke="#033267"/><circle cx="261.5" cy="400.0" r="5.5" fill="#0652a7" stroke="#033267"/><circle cx="267.5" cy="406.5" r="5.5" fill="#0652a7" stroke="#033267"/><circle cx="262.5" cy="413.5" r="5.5" fill="#0652a7" stroke="#033267"/><circle cx="256.3" cy="421.5" r="5.5" fill="#0652a7" stroke="#033267"/><circle cx="311.0" cy="394.0" r="5.5" fill="#0652a7" stroke="#033267"/><circle cx="307.5" cy="392.0" r="5.5" fill="#0652a7" stroke="#033267"/><circle cx="294.0" cy="401.5" r="5.5" fill="#0652a7" stroke="#033267"/><circle cx="301.5" cy="408.5" r="5.5" fill="#0652a7" stroke="#033267"/><circle cx="304.0" cy="412.5" r="5.5" fill="#0652a7" stroke="#033267"/><circle cx="313.0" cy="410.0" r="5.5" fill="#0652a7" stroke="#033267"/><circle cx="317.5" cy="406.0" r="5.5" fill="#0652a7" stroke="#033267"/><circle cx="282.0" cy="423.5" r="5.5" fill="#0652a7" stroke="#033267"/><circle cx="307.0" cy="427.0" r="5.5" fill="#0652a7" stroke="#033267"/><circle cx="340.0" cy="366.5" r="5.5" fill="#0652a7" stroke="#033267"/><circle cx="373.0" cy="364.5" r="5.5" fill="#0652a7" stroke="#033267"/><circle cx="385.5" cy="365.5" r="5.5" fill="#0652a7" stroke="#033267"/><circle cx="426.0" cy="363.0" r="5.5" fill="#0652a7" stroke="#033267"/><circle cx="426.5" cy="373.5" r="5.5" fill="#0652a7" stroke="#033267"/><circle cx="438.5" cy="361.0" r="5.5" fill="#0652a7" stroke="#033267"/><circle cx="438.0" cy="370.5" r="5.5" fill="#0652a7" stroke="#033267"/><circle cx="322.5" cy="360.0" r="5.5" fill="#0652a7" stroke="#033267"/><circle cx="324.0" cy="367.0" r="5.5" fill="#0652a7" stroke="#033267"/><circle cx="360.5" cy="373.5" r="5.5" fill="#0652a7" stroke="#033267"/><circle cx="370.5" cy="379.0" r="5.5" fill="#0652a7" stroke="#033267"/><circle cx="371.0" cy="384.0" r="5.5" fill="#0652a7" stroke="#033267"/><circle cx="363.0" cy="382.0" r="5.5" fill="#0652a7" stroke="#033267"/><circle cx="336.5" cy="380.0" r="5.5" fill="#0652a7" stroke="#033267"/><circle cx="342.0" cy="383.0" r="5.5" fill="#0652a7" stroke="#033267"/><circle cx="338.0" cy="385.0" r="5.5" fill="#0652a7" stroke="#033267"/><circle cx="350.0" cy="382.0" r="5.5" fill="#0652a7" stroke="#033267"/><circle cx="353.0" cy="388.0" r="5.5" fill="#0652a7" stroke="#033267"/><circle cx="355.0" cy="394.0" r="5.5" fill="#0652a7" stroke="#033267"/><circle cx="345.5" cy="395.0" r="5.5" fill="#0652a7" stroke="#033267"/><circle cx="389.0" cy="376.0" r="5.5" fill="#0652a7" stroke="#033267"/><circle cx="394.0" cy="380.0" r="5.5" fill="#0652a7" stroke="#033267"/><circle cx="399.0" cy="384.0" r="5.5" fill="#0652a7" stroke="#033267"/><circle cx="388.0" cy="382.0" r="5.5" fill="#0652a7" stroke="#033267"/><circle cx="392.0" cy="386.0" r="5.5" fill="#0652a7" stroke="#033267"/><circle cx="412.0" cy="375.0" r="5.5" fill="#0652a7" stroke="#033267"/><circle cx="416.0" cy="379.0" r="5.5" fill="#0652a7" stroke="#033267"/><circle cx="407.0" cy="392.0" r="5.5" fill="#0652a7" stroke="#033267"/><circle cx="415.0" cy="397.0" r="5.5" fill="#0652a7" stroke="#033267"/><circle cx="420.0" cy="389.0" r="5.5" fill="#0652a7" stroke="#033267"/><circle cx="426.0" cy="390.0" r="5.5" fill="#0652a7" stroke="#033267"/><circle cx="432.0" cy="394.0" r="5.5" fill="#0652a7" stroke="#033267"/><circle cx="435.0" cy="400.0" r="5.5" fill="#0652a7" stroke="#033267"/><circle cx="438.0" cy="380.0" r="5.5" fill="#0652a7" stroke="#033267"/><circle cx="437.0" cy="386.0" r="5.5" fill="#0652a7" stroke="#033267"/><circle cx="374.0" cy="395.0" r="5.5" fill="#0652a7" stroke="#033267"/><circle cx="380.0" cy="394.0" r="5.5" fill="#0652a7" stroke="#033267"/><circle cx="382.0" cy="402.0" r="5.5" fill="#0652a7" stroke="#033267"/><circle cx="388.0" cy="399.0" r="5.5" fill="#0652a7" stroke="#033267"/><circle cx="396.0" cy="398.0" r="5.5" fill="#0652a7" stroke="#033267"/><circle cx="398.0" cy="404.0" r="5.5" fill="#0652a7" stroke="#033267"/><circle cx="334.0" cy="397.0" r="5.5" fill="#0652a7" stroke="#033267"/><circle cx="340.0" cy="404.0" r="5.5" fill="#0652a7" stroke="#033267"/><circle cx="350.0" cy="405.0" r="5.5" fill="#0652a7" stroke="#033267"/><circle cx="323.5" cy="399.0" r="5.5" fill="#0652a7" stroke="#033267"/><circle cx="328.0" cy="403.0" r="5.5" fill="#0652a7" stroke="#033267"/><circle cx="331.0" cy="414.0" r="5.5" fill="#0652a7" stroke="#033267"/><circle cx="325.0" cy="412.0" r="5.5" fill="#0652a7" stroke="#033267"/><circle cx="324.0" cy="421.0" r="5.5" fill="#0652a7" stroke="#033267"/><circle cx="329.0" cy="408.0" r="5.5" fill="#0652a7" stroke="#033267"/><circle cx="418.0" cy="406.0" r="5.5" fill="#0652a7" stroke="#033267"/><circle cx="423.0" cy="402.0" r="5.5" fill="#0652a7" stroke="#033267"/><circle cx="431.0" cy="409.0" r="5.5" fill="#0652a7" stroke="#033267"/><circle cx="416.0" cy="411.0" r="5.5" fill="#0652a7" stroke="#033267"/><circle cx="390.0" cy="411.0" r="5.5" fill="#0652a7" stroke="#033267"/><circle cx="396.0" cy="412.0" r="5.5" fill="#0652a7" stroke="#033267"/><circle cx="402.0" cy="414.0" r="5.5" fill="#0652a7" stroke="#033267"/><circle cx="388.0" cy="419.0" r="5.5" fill="#0652a7" stroke="#033267"/><circle cx="347.0" cy="415.0" r="5.5" fill="#0652a7" stroke="#033267"/><circle cx="360.0" cy="415.0" r="5.5" fill="#0652a7" stroke="#033267"/><circle cx="364.0" cy="418.0" r="5.5" fill="#0652a7" stroke="#033267"/><circle cx="354.0" cy="422.0" r="5.5" fill="#0652a7" stroke="#033267"/><circle cx="361.0" cy="424.0" r="5.5" fill="#0652a7" stroke="#033267"/><circle cx="376.0" cy="424.0" r="5.5" fill="#0652a7" stroke="#033267"/><circle cx="380.0" cy="426.0" r="5.5" fill="#0652a7" stroke="#033267"/><circle cx="407.0" cy="422.0" r="5.5" fill="#0652a7" stroke="#033267"/><circle cx="414.5" cy="425.0" r="5.5" fill="#0652a7" stroke="#033267"/><circle cx="335.0" cy="424.0" r="5.5" fill="#0652a7" stroke="#033267"/><circle cx="322.0" cy="429.0" r="5.5" fill="#0652a7" stroke="#033267"/><circle cx="437.0" cy="424.0" r="5.5" fill="#0652a7" stroke="#033267"/><circle cx="443.0" cy="360.0" r="5.5" fill="#0652a7" stroke="#033267"/><circle cx="464.5" cy="366.5" r="8.0" fill="#0652a7" stroke="#033267"/><circle cx="476.0" cy="364.0" r="5.5" fill="#0652a7" stroke="#033267"/><circle cx="480.0" cy="366.0" r="5.5" fill="#0652a7" stroke="#033267"/><circle cx="490.0" cy="361.0" r="5.5" fill="#0652a7" stroke="#033267"/><circle cx="500.0" cy="366.0" r="5.5" fill="#0652a7" stroke="#033267"/><circle cx="502.0" cy="371.5" r="5.5" fill="#0652a7" stroke="#033267"/><circle cx="516.5" cy="364.5" r="5.5" fill="#0652a7" stroke="#033267"/><circle cx="536.0" cy="362.0" r="5.5" fill="#0652a7" stroke="#033267"/><circle cx="538.5" cy="371.5" r="5.5" fill="#0652a7" stroke="#033267"/><circle cx="443.0" cy="373.0" r="5.5" fill="#0652a7" stroke="#033267"/><circle cx="448.0" cy="383.0" r="5.5" fill="#0652a7" stroke="#033267"/><circle cx="443.0" cy="380.0" r="5.5" fill="#0652a7" stroke="#033267"/><circle cx="466.5" cy="380.0" r="5.5" fill="#0652a7" stroke="#033267"/><circle cx="473.0" cy="375.0" r="5.5" fill="#0652a7" stroke="#033267"/><circle cx="480.0" cy="375.0" r="5.5" fill="#0652a7" stroke="#033267"/><circle cx="479.0" cy="384.0" r="5.5" fill="#0652a7" stroke="#033267"/><circle cx="476.0" cy="387.0" r="5.5" fill="#0652a7" stroke="#033267"/><circle cx="446.0" cy="398.0" r="5.5" fill="#0652a7" stroke="#033267"/><circle cx="452.0" cy="397.0" r="5.5" fill="#0652a7" stroke="#033267"/><circle cx="463.0" cy="396.0" r="5.5" fill="#0652a7" stroke="#033267"/><circle cx="474.0" cy="400.0" r="5.5" fill="#0652a7" stroke="#033267"/><circle cx="467.0" cy="403.0" r="5.5" fill="#0652a7" stroke="#033267"/><circle cx="460.0" cy="402.0" r="5.5" fill="#0652a7" stroke="#033267"/><circle cx="442.0" cy="404.0" r="5.5" fill="#0652a7" stroke="#033267"/><circle cx="452.0" cy="414.0" r="5.5" fill="#0652a7" stroke="#033267"/><circle cx="444.0" cy="420.0" r="5.5" fill="#0652a7" stroke="#033267"/><circle cx="468.0" cy="416.0" r="5.5" fill="#0652a7" stroke="#033267"/><circle cx="464.0" cy="423.0" r="5.5" fill="#0652a7" stroke="#033267"/><circle cx="477.0" cy="427.0" r="5.5" fill="#0652a7" stroke="#033267"/><circle cx="455.0" cy="428.0" r="5.5" fill="#0652a7" stroke="#033267"/><circle cx="658.5" cy="363.0" r="5.5" fill="#0652a7" stroke="#033267"/><circle cx="671.8" cy="360.8" r="5.5" fill="#0652a7" stroke="#033267"/><circle cx="668.0" cy="377.8" r="5.5" fill="#0652a7" stroke="#033267"/><circle cx="600.5" cy="389.5" r="10.0" fill="#0652a7" stroke="#033267"/><circle cx="620.0" cy="384.5" r="6.0" fill="#0652a7" stroke="#033267"/><circle cx="638.0" cy="379.0" r="9.5" fill="#0652a7" stroke="#033267"/><circle cx="615.5" cy="399.0" r="10.0" fill="#0652a7" stroke="#033267"/><circle cx="611.0" cy="401.5" r="5.5" fill="#0652a7" stroke="#033267"/><circle cx="618.5" cy="409.5" r="5.5" fill="#0652a7" stroke="#033267"/><circle cx="635.0" cy="393.5" r="5.5" fill="#0652a7" stroke="#033267"/><circle cx="644.0" cy="391.0" r="5.5" fill="#0652a7" stroke="#033267"/><circle cx="652.5" cy="391.5" r="5.5" fill="#0652a7" stroke="#033267"/><circle cx="649.0" cy="399.5" r="5.5" fill="#0652a7" stroke="#033267"/><circle cx="662.5" cy="396.0" r="5.5" fill="#0652a7" stroke="#033267"/><circle cx="649.5" cy="409.5" r="5.5" fill="#0652a7" stroke="#033267"/><circle cx="642.0" cy="418.0" r="5.5" fill="#0652a7" stroke="#033267"/><circle cx="668.0" cy="416.0" r="5.5" fill="#0652a7" stroke="#033267"/><circle cx="676.0" cy="414.0" r="7.0" fill="#0652a7" stroke="#033267"/><circle cx="228.0" cy="454.0" r="5.5" fill="#0652a7" stroke="#033267"/><circle cx="277.0" cy="437.0" r="5.5" fill="#0652a7" stroke="#033267"/><circle cx="264.5" cy="482.5" r="5.5" fill="#0652a7" stroke="#033267"/><circle cx="273.5" cy="480.5" r="5.5" fill="#0652a7" stroke="#033267"/><circle cx="318.0" cy="513.0" r="5.5" fill="#0652a7" stroke="#033267"/><circle cx="300.5" cy="456.5" r="5.5" fill="#0652a7" stroke="#033267"/><circle cx="303.5" cy="465.5" r="5.5" fill="#0652a7" stroke="#033267"/><circle cx="314.0" cy="474.0" r="5.5" fill="#0652a7" stroke="#033267"/><circle cx="304.0" cy="438.0" r="5.5" fill="#0652a7" stroke="#033267"/><circle cx="316.0" cy="450.0" r="5.5" fill="#0652a7" stroke="#033267"/><circle cx="313.0" cy="461.0" r="5.5" fill="#0652a7" stroke="#033267"/><circle cx="317.0" cy="466.0" r="5.5" fill="#0652a7" stroke="#033267"/><circle cx="323.0" cy="437.0" r="5.5" fill="#0652a7" stroke="#033267"/><circle cx="344.0" cy="440.0" r="5.5" fill="#0652a7" stroke="#033267"/><circle cx="331.0" cy="447.0" r="5.5" fill="#0652a7" stroke="#033267"/><circle cx="338.0" cy="445.0" r="5.5" fill="#0652a7" stroke="#033267"/><circle cx="360.0" cy="439.0" r="5.5" fill="#0652a7" stroke="#033267"/><circle cx="365.0" cy="436.0" r="5.5" fill="#0652a7" stroke="#033267"/><circle cx="372.0" cy="438.0" r="5.5" fill="#0652a7" stroke="#033267"/><circle cx="367.0" cy="445.0" r="5.5" fill="#0652a7" stroke="#033267"/><circle cx="374.0" cy="446.0" r="5.5" fill="#0652a7" stroke="#033267"/><circle cx="385.0" cy="440.0" r="5.5" fill="#0652a7" stroke="#033267"/><circle cx="392.0" cy="437.0" r="5.5" fill="#0652a7" stroke="#033267"/><circle cx="398.0" cy="443.0" r="5.5" fill="#0652a7" stroke="#033267"/><circle cx="401.0" cy="448.0" r="5.5" fill="#0652a7" stroke="#033267"/><circle cx="390.0" cy="445.0" r="5.5" fill="#0652a7" stroke="#033267"/><circle cx="412.0" cy="446.0" r="5.5" fill="#0652a7" stroke="#033267"/><circle cx="416.0" cy="440.0" r="5.5" fill="#0652a7" stroke="#033267"/><circle cx="424.0" cy="444.0" r="5.5" fill="#0652a7" stroke="#033267"/><circle cx="425.0" cy="455.0" r="5.5" fill="#0652a7" stroke="#033267"/><circle cx="322.0" cy="451.0" r="5.5" fill="#0652a7" stroke="#033267"/><circle cx="322.0" cy="469.0" r="5.5" fill="#0652a7" stroke="#033267"/><circle cx="330.0" cy="460.0" r="5.5" fill="#0652a7" stroke="#033267"/><circle cx="339.0" cy="461.0" r="5.5" fill="#0652a7" stroke="#033267"/><circle cx="335.0" cy="459.0" r="5.5" fill="#0652a7" stroke="#033267"/><circle cx="380.0" cy="454.0" r="5.5" fill="#0652a7" stroke="#033267"/><circle cx="370.0" cy="466.0" r="5.5" fill="#0652a7" stroke="#033267"/><circle cx="382.0" cy="469.0" r="5.5" fill="#0652a7" stroke="#033267"/><circle cx="378.0" cy="461.0" r="5.5" fill="#0652a7" stroke="#033267"/><circle cx="396.0" cy="460.0" r="5.5" fill="#0652a7" stroke="#033267"/><circle cx="392.0" cy="459.0" r="5.5" fill="#0652a7" stroke="#033267"/><circle cx="409.0" cy="462.0" r="5.5" fill="#0652a7" stroke="#033267"/><circle cx="410.0" cy="459.0" r="5.5" fill="#0652a7" stroke="#033267"/><circle cx="435.0" cy="464.0" r="5.5" fill="#0652a7" stroke="#033267"/><circle cx="436.0" cy="469.0" r="5.5" fill="#0652a7" stroke="#033267"/><circle cx="355.0" cy="474.0" r="5.5" fill="#0652a7" stroke="#033267"/><circle cx="334.5" cy="474.0" r="5.5" fill="#0652a7" stroke="#033267"/><circle cx="331.0" cy="472.0" r="5.5" fill="#0652a7" stroke="#033267"/><circle cx="331.0" cy="487.0" r="5.5" fill="#0652a7" stroke="#033267"/><circle cx="364.0" cy="485.5" r="5.5" fill="#0652a7" stroke="#033267"/><circle cx="372.0" cy="484.0" r="5.5" fill="#0652a7" stroke="#033267"/><circle cx="395.0" cy="497.0" r="5.5" fill="#0652a7" stroke="#033267"/><circle cx="322.0" cy="511.0" r="5.5" fill="#0652a7" stroke="#033267"/><circle cx="455.0" cy="440.0" r="5.5" fill="#0652a7" stroke="#033267"/><circle cx="450.0" cy="444.0" r="5.5" fill="#0652a7" stroke="#033267"/><circle cx="448.0" cy="454.0" r="5.5" fill="#0652a7" stroke="#033267"/><circle cx="454.0" cy="457.0" r="5.5" fill="#0652a7" stroke="#033267"/><circle cx="457.0" cy="449.0" r="5.5" fill="#0652a7" stroke="#033267"/><circle cx="464.0" cy="452.0" r="5.5" fill="#0652a7" stroke="#033267"/><circle cx="467.0" cy="449.0" r="5.5" fill="#0652a7" stroke="#033267"/><circle cx="466.0" cy="460.5" r="5.5" fill="#0652a7" stroke="#033267"/><circle cx="441.0" cy="460.0" r="5.5" fill="#0652a7" stroke="#033267"/><circle cx="442.0" cy="471.0" r="5.5" fill="#0652a7" stroke="#033267"/><circle cx="473.0" cy="480.5" r="5.5" fill="#0652a7" stroke="#033267"/><circle cx="452.5" cy="504.5" r="5.5" fill="#0652a7" stroke="#033267"/><circle cx="636.0" cy="442.5" r="5.5" fill="#0652a7" stroke="#033267"/><circle cx="647.5" cy="446.5" r="5.5" fill="#0652a7" stroke="#033267"/><circle cx="616.5" cy="451.0" r="5.5" fill="#0652a7" stroke="#033267"/><circle cx="612.0" cy="461.0" r="5.5" fill="#0652a7" stroke="#033267"/><circle cx="597.0" cy="466.5" r="5.5" fill="#0652a7" stroke="#033267"/><circle cx="627.5" cy="465.2" r="5.5" fill="#0652a7" stroke="#033267"/><circle cx="690.5" cy="452.5" r="5.5" fill="#0652a7" stroke="#033267"/><circle cx="302.5" cy="530.0" r="5.5" fill="#0652a7" stroke="#033267"/><circle cx="317.0" cy="546.5" r="5.5" fill="#0652a7" stroke="#033267"/><circle cx="515.5" cy="381.5" r="5.5" fill="#0652a7" stroke="#033267"/><circle cx="545.5" cy="387.5" r="5.5" fill="#0652a7" stroke="#033267"/><circle cx="519.5" cy="391.5" r="5.5" fill="#0652a7" stroke="#033267"/><circle cx="570.0" cy="382.5" r="7.0" fill="#0652a7" stroke="#033267"/><circle cx="586.0" cy="386.0" r="5.5" fill="#0652a7" stroke="#033267"/><circle cx="571.5" cy="395.0" r="5.5" fill="#0652a7" stroke="#033267"/><circle cx="573.0" cy="399.0" r="5.5" fill="#0652a7" stroke="#033267"/><circle cx="581.0" cy="410.0" r="5.5" fill="#0652a7" stroke="#033267"/><circle cx="591.0" cy="408.5" r="5.5" fill="#0652a7" stroke="#033267"/><circle cx="495.0" cy="386.0" r="5.5" fill="#0652a7" stroke="#033267"/><circle cx="486.0" cy="386.0" r="5.5" fill="#0652a7" stroke="#033267"/><circle cx="493.0" cy="398.0" r="5.5" fill="#0652a7" stroke="#033267"/><circle cx="499.0" cy="399.0" r="5.5" fill="#0652a7" stroke="#033267"/><circle cx="515.0" cy="403.0" r="5.5" fill="#0652a7" stroke="#033267"/><circle cx="530.0" cy="403.0" r="5.5" fill="#0652a7" stroke="#033267"/><circle cx="551.0" cy="410.0" r="10.0" fill="#0652a7" stroke="#033267"/><circle cx="540.0" cy="413.0" r="7.0" fill="#0652a7" stroke="#033267"/><circle cx="518.0" cy="412.0" r="8.0" fill="#0652a7" stroke="#033267"/><circle cx="497.0" cy="410.0" r="8.0" fill="#0652a7" stroke="#033267"/><circle cx="486.0" cy="414.0" r="5.5" fill="#0652a7" stroke="#033267"/><circle cx="528.0" cy="420.0" r="8.0" fill="#0652a7" stroke="#033267"/><circle cx="516.0" cy="425.0" r="8.0" fill="#0652a7" stroke="#033267"/><circle cx="567.0" cy="420.0" r="7.0" fill="#0652a7" stroke="#033267"/><circle cx="585.0" cy="426.0" r="5.5" fill="#0652a7" stroke="#033267"/><circle cx="505.0" cy="429.0" r="5.5" fill="#0652a7" stroke="#033267"/><circle cx="490.0" cy="422.0" r="7.0" fill="#0652a7" stroke="#033267"/><circle cx="542.0" cy="432.0" r="9.0" fill="#0652a7" stroke="#033267"/><circle cx="527.0" cy="435.0" r="5.5" fill="#0652a7" stroke="#033267"/><circle cx="514.5" cy="443.0" r="9.0" fill="#0652a7" stroke="#033267"/><circle cx="498.0" cy="442.0" r="7.0" fill="#0652a7" stroke="#033267"/><circle cx="582.0" cy="434.0" r="5.5" fill="#0652a7" stroke="#033267"/><circle cx="563.5" cy="438.0" r="5.5" fill="#0652a7" stroke="#033267"/><circle cx="522.0" cy="455.0" r="5.5" fill="#0652a7" stroke="#033267"/><circle cx="507.0" cy="459.0" r="5.5" fill="#0652a7" stroke="#033267"/><circle cx="556.0" cy="457.0" r="7.0" fill="#0652a7" stroke="#033267"/><circle cx="596.0" cy="444.0" r="5.5" fill="#0652a7" stroke="#033267"/><circle cx="340.0" cy="396.7" r="5.5" fill="#0652a7" stroke="#033267"/><circle cx="333.3" cy="404.0" r="5.5" fill="#0652a7" stroke="#033267"/><circle cx="324.0" cy="433.3" r="5.5" fill="#0652a7" stroke="#033267"/><circle cx="330.0" cy="434.7" r="5.5" fill="#0652a7" stroke="#033267"/><circle cx="366.7" cy="414.7" r="5.5" fill="#0652a7" stroke="#033267"/><circle cx="368.0" cy="422.7" r="5.5" fill="#0652a7" stroke="#033267"/><circle cx="383.3" cy="428.7" r="5.5" fill="#0652a7" stroke="#033267"/><circle cx="360.0" cy="431.3" r="5.5" fill="#0652a7" stroke="#033267"/><circle cx="368.0" cy="431.3" r="5.5" fill="#0652a7" stroke="#033267"/><circle cx="374.7" cy="433.3" r="5.5" fill="#0652a7" stroke="#033267"/><circle cx="377.3" cy="444.0" r="5.5" fill="#0652a7" stroke="#033267"/><circle cx="388.0" cy="407.3" r="5.5" fill="#0652a7" stroke="#033267"/><circle cx="384.0" cy="418.0" r="5.5" fill="#0652a7" stroke="#033267"/><circle cx="393.3" cy="429.3" r="5.5" fill="#0652a7" stroke="#033267"/><circle cx="385.3" cy="448.0" r="5.5" fill="#0652a7" stroke="#033267"/><circle cx="393.3" cy="448.7" r="5.5" fill="#0652a7" stroke="#033267"/><circle cx="412.0" cy="378.7" r="5.5" fill="#0652a7" stroke="#033267"/><circle cx="441.3" cy="384.0" r="5.5" fill="#0652a7" stroke="#033267"/><circle cx="477.3" cy="378.7" r="5.5" fill="#0652a7" stroke="#033267"/><circle cx="402.7" cy="401.3" r="5.5" fill="#0652a7" stroke="#033267"/><circle cx="404.0" cy="408.0" r="5.5" fill="#0652a7" stroke="#033267"/><circle cx="426.7" cy="396.0" r="5.5" fill="#0652a7" stroke="#033267"/><circle cx="422.0" cy="397.3" r="5.5" fill="#0652a7" stroke="#033267"/><circle cx="412.0" cy="406.7" r="5.5" fill="#0652a7" stroke="#033267"/><circle cx="437.3" cy="404.0" r="5.5" fill="#0652a7" stroke="#033267"/><circle cx="434.7" cy="410.7" r="5.5" fill="#0652a7" stroke="#033267"/><circle cx="441.3" cy="410.7" r="5.5" fill="#0652a7" stroke="#033267"/><circle cx="446.7" cy="408.0" r="5.5" fill="#0652a7" stroke="#033267"/><circle cx="452.0" cy="404.7" r="5.5" fill="#0652a7" stroke="#033267"/><circle cx="470.7" cy="404.0" r="5.5" fill="#0652a7" stroke="#033267"/><circle cx="460.0" cy="406.0" r="5.5" fill="#0652a7" stroke="#033267"/><circle cx="476.7" cy="406.0" r="5.5" fill="#0652a7" stroke="#033267"/><circle cx="442.7" cy="416.0" r="5.5" fill="#0652a7" stroke="#033267"/><circle cx="466.7" cy="412.0" r="5.5" fill="#0652a7" stroke="#033267"/><circle cx="472.0" cy="416.0" r="5.5" fill="#0652a7" stroke="#033267"/><circle cx="464.0" cy="417.3" r="5.5" fill="#0652a7" stroke="#033267"/><circle cx="460.0" cy="422.7" r="5.5" fill="#0652a7" stroke="#033267"/><circle cx="469.3" cy="424.0" r="5.5" fill="#0652a7" stroke="#033267"/><circle cx="476.7" cy="413.3" r="5.5" fill="#0652a7" stroke="#033267"/><circle cx="464.0" cy="429.3" r="5.5" fill="#0652a7" stroke="#033267"/><circle cx="362.0" cy="445.3" r="5.5" fill="#0652a7" stroke="#033267"/><circle cx="382.7" cy="442.7" r="5.5" fill="#0652a7" stroke="#033267"/><circle cx="400.0" cy="432.7" r="5.5" fill="#0652a7" stroke="#033267"/><circle cx="410.0" cy="435.3" r="5.5" fill="#0652a7" stroke="#033267"/><circle cx="400.0" cy="438.7" r="5.5" fill="#0652a7" stroke="#033267"/><circle cx="382.7" cy="457.3" r="5.5" fill="#0652a7" stroke="#033267"/><circle cx="372.0" cy="388.0" r="5.5" fill="#0652a7" stroke="#033267"/><circle cx="308.0" cy="370.0" r="5.5" fill="#0652a7" stroke="#033267"/><circle cx="320.0" cy="367.0" r="5.5" fill="#0652a7" stroke="#033267"/><circle cx="352.0" cy="399.0" r="5.5" fill="#0652a7" stroke="#033267"/><circle cx="371.0" cy="374.0" r="5.5" fill="#0652a7" stroke="#033267"/><circle cx="501.1" cy="425.7" r="5.5" fill="#0652a7" stroke="#033267"/><circle cx="506.4" cy="432.9" r="5.5" fill="#0652a7" stroke="#033267"/><circle cx="515.4" cy="420.4" r="5.5" fill="#0652a7" stroke="#033267"/><circle cx="524.3" cy="423.9" r="5.5" fill="#0652a7" stroke="#033267"/><circle cx="531.4" cy="416.8" r="5.5" fill="#0652a7" stroke="#033267"/><circle cx="536.8" cy="407.9" r="5.5" fill="#0652a7" stroke="#033267"/><circle cx="540.4" cy="420.4" r="5.5" fill="#0652a7" stroke="#033267"/><circle cx="556.4" cy="416.8" r="5.5" fill="#0652a7" stroke="#033267"/><circle cx="549.3" cy="432.9" r="5.5" fill="#0652a7" stroke="#033267"/><circle cx="538.6" cy="434.6" r="5.5" fill="#0652a7" stroke="#033267"/><circle cx="560.0" cy="423.9" r="5.5" fill="#0652a7" stroke="#033267"/><circle cx="567.1" cy="415.0" r="5.5" fill="#0652a7" stroke="#033267"/><circle cx="570.7" cy="420.4" r="5.5" fill="#0652a7" stroke="#033267"/><circle cx="576.1" cy="432.9" r="5.5" fill="#0652a7" stroke="#033267"/><circle cx="490.5" cy="401.0" r="5.5" fill="#0652a7" stroke="#033267"/><circle cx="504.8" cy="410.5" r="5.5" fill="#0652a7" stroke="#033267"/><circle cx="497.6" cy="429.5" r="5.5" fill="#0652a7" stroke="#033267"/><circle cx="533.3" cy="410.5" r="5.5" fill="#0652a7" stroke="#033267"/><circle cx="523.8" cy="439.0" r="5.5" fill="#0652a7" stroke="#033267"/><circle cx="557.0" cy="434.0" r="5.5" fill="#0652a7" stroke="#033267"/><circle cx="488.0" cy="418.0" r="5.5" fill="#0652a7" stroke="#033267"/><circle cx="505.0" cy="398.0" r="5.5" fill="#0652a7" stroke="#033267"/><circle cx="528.0" cy="425.0" r="5.5" fill="#0652a7" stroke="#033267"/></g>
<g font-family="Liberation Sans, sans-serif" font-size="28" fill="#444444"><text x="59.2" y="178.3" textLength="72.0" lengthAdjust="spacingAndGlyphs">100%</text><text x="97.5" y="282.9" textLength="34.1" lengthAdjust="spacingAndGlyphs">80</text><text x="97.5" y="387.6" textLength="34.1" lengthAdjust="spacingAndGlyphs">60</text><text x="97.5" y="492.2" textLength="34.1" lengthAdjust="spacingAndGlyphs">40</text><text x="97.5" y="596.9" textLength="34.1" lengthAdjust="spacingAndGlyphs">20</text><text x="113.8" y="701.5" textLength="17.8" lengthAdjust="spacingAndGlyphs">0</text><text x="220.4" y="781.8" textLength="17.8" lengthAdjust="spacingAndGlyphs">0</text><text x="374.4" y="781.8" textLength="28.8" lengthAdjust="spacingAndGlyphs">10</text><text x="536.3" y="781.8" textLength="32.7" lengthAdjust="spacingAndGlyphs">20</text><text x="697.8" y="781.8" textLength="33.4" lengthAdjust="spacingAndGlyphs">30</text><text x="860.0" y="781.8" textLength="34.3" lengthAdjust="spacingAndGlyphs">40</text><text x="1012.1" y="781.8" textLength="57.7" lengthAdjust="spacingAndGlyphs">50%</text></g>
<text x="157.8" y="140.8" font-family="Liberation Sans, sans-serif" font-weight="bold" font-size="26" fill="#5b5b5b" stroke="#fff" stroke-width="4" paint-order="stroke" stroke-linejoin="round" textLength="113" lengthAdjust="spacingAndGlyphs">Derechas</text>
<text x="965" y="725.8" font-family="Liberation Sans, sans-serif" font-weight="bold" font-size="26" fill="#5b5b5b" stroke="#fff" stroke-width="4" paint-order="stroke" stroke-linejoin="round" textLength="171" lengthAdjust="spacingAndGlyphs">% Extranjeros</text>
<g font-family="Liberation Sans, sans-serif" font-size="27" fill="#151515"><circle cx="72.5" cy="70.5" r="15" fill="#0b56a6" stroke="#073c74" stroke-width="1"/><text x="94.0" y="78.8" textLength="32.2" lengthAdjust="spacingAndGlyphs">PP</text><circle cx="165" cy="70.5" r="15" fill="#15c02d" stroke="#0e861f" stroke-width="1"/><text x="186.5" y="78.8" textLength="54.2" lengthAdjust="spacingAndGlyphs">VOX</text><circle cx="276" cy="70.5" r="15" fill="#e71c28" stroke="#a1131c" stroke-width="1"/><text x="298.0" y="78.8" textLength="64.7" lengthAdjust="spacingAndGlyphs">PSOE</text><circle cx="401" cy="70.5" r="15" fill="#f4bb3f" stroke="#aa822c" stroke-width="1"/><text x="423.0" y="78.8" textLength="50.7" lengthAdjust="spacingAndGlyphs">PAR</text><circle cx="509" cy="70.5" r="15" fill="#2f7546" stroke="#205131" stroke-width="1"/><text x="531.2" y="78.8" textLength="85.5" lengthAdjust="spacingAndGlyphs">EXISTE</text><circle cx="653.5" cy="70.5" r="15" fill="#8b2828" stroke="#611c1c" stroke-width="1"/><text x="675.2" y="78.8" textLength="53.2" lengthAdjust="spacingAndGlyphs">CHA</text><circle cx="767" cy="70.5" r="15" fill="#e5195a" stroke="#a0113e" stroke-width="1"/><text x="788.5" y="78.8" textLength="119.2" lengthAdjust="spacingAndGlyphs">IU+Sumar</text></g>
</svg>
</body></html>
